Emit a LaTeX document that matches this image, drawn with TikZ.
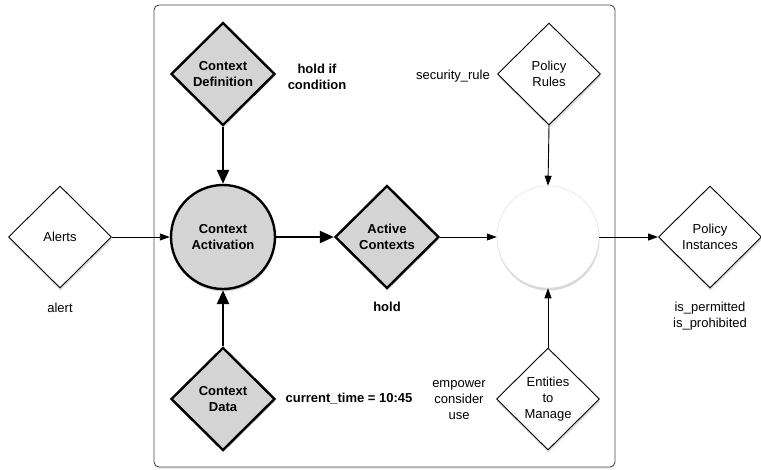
\documentclass[tikz,border=0pt]{standalone}
\usepackage{fontspec}
\setmainfont{Liberation Sans}
\usetikzlibrary{shapes.geometric,arrows.meta,shadows}
\definecolor{nodegray}{RGB}{212,212,212}
\begin{document}
\begin{tikzpicture}[x=1pt,y=-1pt,
  font=\fontsize{13}{16}\selectfont,
  shad/.style={drop shadow={opacity=0.3,shadow xshift=0.5pt,shadow yshift=-2.5pt}},
  base/.style={align=center, inner sep=0pt, shad},
  wdiam/.style={base, diamond, draw=black, line width=0.9pt, fill=white, minimum width=103pt, minimum height=102pt},
  gdiam/.style={base, diamond, draw=black, line width=2.4pt, fill=nodegray, minimum width=104pt, minimum height=103pt, font=\fontsize{13}{16}\selectfont\bfseries},
  gcirc/.style={base, circle, draw=black, line width=2.4pt, fill=nodegray, minimum size=104pt, font=\fontsize{13}{16}\selectfont\bfseries},
  wcirc/.style={base, circle, draw=black!12, line width=0.5pt, fill=white, minimum size=102pt},
  lbl/.style={align=center, inner sep=0pt},
  blbl/.style={lbl, font=\fontsize{13}{16}\selectfont\bfseries},
  thin/.style={line width=0.9pt, -{Triangle[length=10pt,width=7pt]}},
  thick/.style={line width=2.4pt, -{Triangle[length=14pt,width=12pt]}}
]
\useasboundingbox (0,0) rectangle (761,469);
\draw[rounded corners=5pt, draw=black!70, fill=white, line width=0.9pt, drop shadow={opacity=0.2,shadow xshift=0pt,shadow yshift=-1.5pt}] (154,5) rectangle (615,467);

\node[wdiam] (alerts) at (60,237) {Alerts};
\node[gdiam] (cdef) at (223,74) {Context\\Definition};
\node[gcirc] (cact) at (223,237) {Context\\Activation};
\node[gdiam] (cdata) at (223,399) {Context\\Data};
\node[gdiam] (actx) at (387,237) {Active\\Contexts};
\node[wcirc] (eval) at (548,237) {};
\node[wdiam] (prules) at (549,74) {Policy\\Rules};
\node[wdiam] (ent) at (548,399) {Entities\\to\\Manage};
\node[wdiam] (pinst) at (710,237) {Policy\\Instances};

\node[lbl] (lalert) at (60,308) {alert};
\node[blbl] (lholdif) at (317,77) {hold if\\condition};
\node[lbl] (lsec) at (453,76) {security\_rule};
\node[blbl] (lhold) at (387,307) {hold};
\node[lbl] (lperm) at (710,316) {is\_permitted\\is\_prohibited};
\node[blbl] (ltime) at (349,399) {current\_time = 10:45};
\node[lbl] (lemp) at (459,400) {empower\\consider\\use};

\draw[thin] (alerts.east) -- (cact.west);
\draw[thick] (cdef.south) -- (cact.north);
\draw[thick] (cdata.north) -- (cact.south);
\draw[thick] (cact.east) -- (actx.west);
\draw[thin] (actx.east) -- (eval.west);
\draw[thin] (prules.south) -- (eval.north);
\draw[thin] (ent.north) -- (eval.south);
\draw[thin] (eval.east) -- (pinst.west);
\end{tikzpicture}
\end{document}
